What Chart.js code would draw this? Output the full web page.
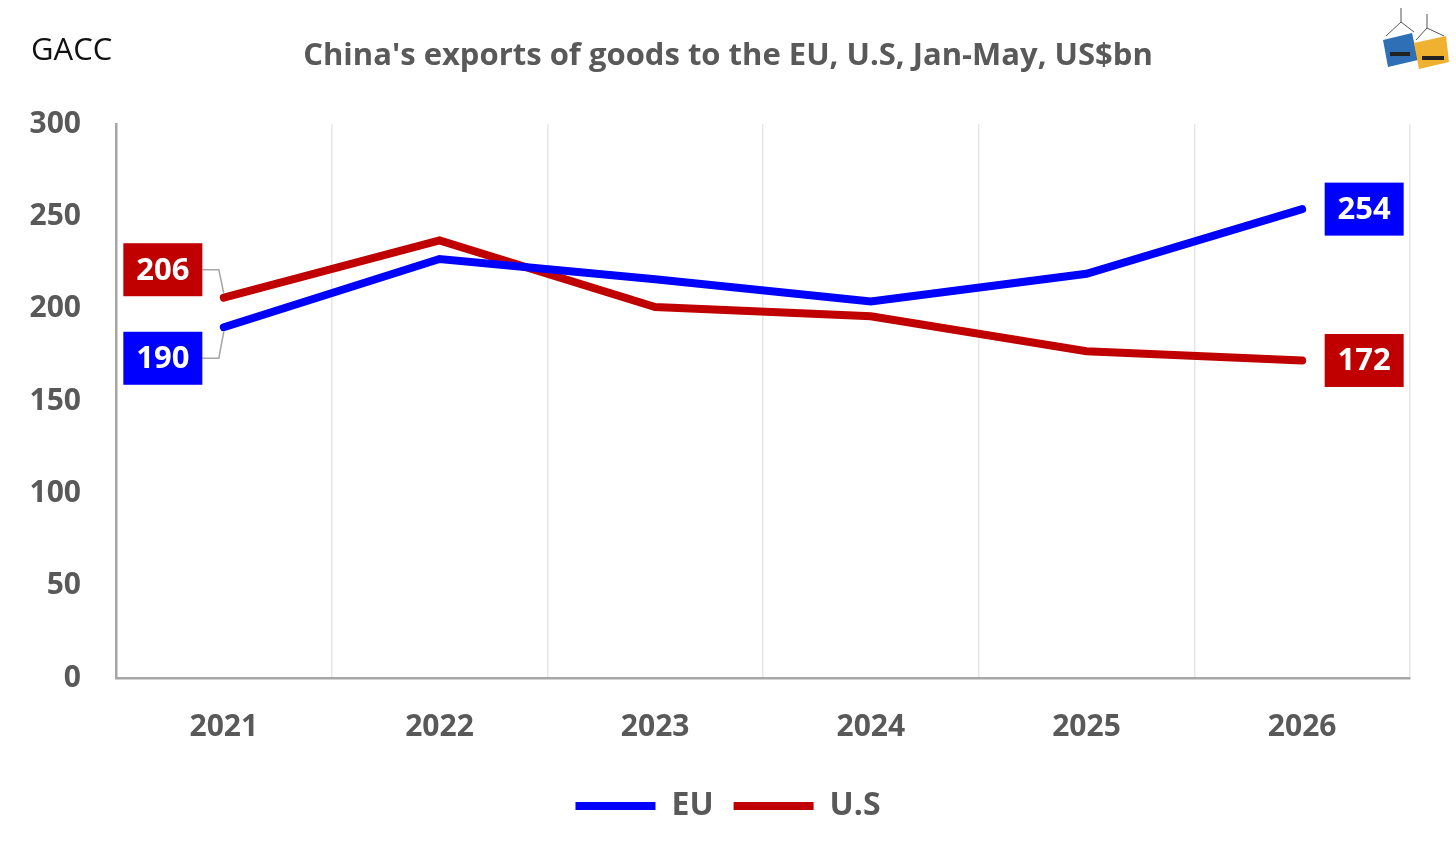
<!DOCTYPE html>
<html>
<head>
<meta charset="utf-8">
<title>China's exports of goods to the EU, U.S</title>
<script src="https://cdn.jsdelivr.net/npm/chart.js@4.4.1/dist/chart.umd.min.js"></script>
<style>
  html, body { margin: 0; padding: 0; background: #fff; }
  #wrap { width: 1456px; height: 861px; }
</style>
</head>
<body>
<div id="wrap"><canvas id="myChart" width="1456" height="861"></canvas></div>
<script>
// data
const years = ['2021', '2022', '2023', '2024', '2025', '2026'];
const euValues = [190, 227, 216, 204, 219, 254];
const usValues = [206, 237, 201, 196, 177, 172];
const yTicks = [0, 50, 100, 150, 200, 250, 300];

const FONT = "'Open Sans', 'Noto Sans', sans-serif";
const GREY = '#595959';
const BLUE = '#0000ff';
const RED = '#c00000';

// value boxes at the ends of the lines, with leader lines on the left side
const labelBoxes = {
  id: 'labelBoxes',
  afterDatasetsDraw(chart) {
    const c = chart.ctx;
    const boxW = 79, boxH = 53;
    function box(cx, cy, colour, text) {
      c.fillStyle = colour;
      c.fillRect(cx - boxW / 2, cy - boxH / 2, boxW, boxH);
      c.fillStyle = '#fff';
      c.font = 'bold 31px ' + FONT;
      c.textAlign = 'center';
      c.textBaseline = 'middle';
      c.fillText(text, cx, cy + 1);
    }
    chart.data.datasets.forEach((ds, i) => {
      const pts = chart.getDatasetMeta(i).data;
      const first = pts[0], last = pts[pts.length - 1];
      // right side: label just right of the last point
      box(last.x + 62, last.y, ds.borderColor, String(ds.data[ds.data.length - 1]));
      // left side: label pushed away from the other series
      const shift = i === 0 ? 31 : -28;
      const bx = first.x - 61, by = first.y + shift;
      c.strokeStyle = '#a6a6a6';
      c.lineWidth = 1.5;
      c.beginPath();
      c.moveTo(bx + boxW / 2, by);
      c.lineTo(first.x - 5, by);
      c.lineTo(first.x, first.y + (i === 0 ? 4 : -4));
      c.stroke();
      box(bx, by, ds.borderColor, String(ds.data[0]));
    });
  }
};

// source text and a small container logo
const decorations = {
  id: 'decorations',
  afterDraw(chart) {
    const c = chart.ctx;
    c.save();
    c.fillStyle = '#111';
    c.font = '31px ' + FONT;
    c.textAlign = 'left';
    c.textBaseline = 'middle';
    c.fillText('GACC', 31, 51);

    // logo: two hanging containers
    c.strokeStyle = '#555';
    c.lineWidth = 1;
    c.beginPath();
    c.moveTo(1401, 8); c.lineTo(1401, 22);
    c.moveTo(1401, 22); c.lineTo(1386, 36);
    c.moveTo(1401, 22); c.lineTo(1414, 32);
    c.moveTo(1427, 14); c.lineTo(1427, 28);
    c.moveTo(1427, 28); c.lineTo(1416, 40);
    c.moveTo(1427, 28); c.lineTo(1444, 36);
    c.stroke();
    c.fillStyle = '#2f6fb5';
    c.beginPath();
    c.moveTo(1383, 40); c.lineTo(1412, 33); c.lineTo(1418, 60); c.lineTo(1388, 67); c.closePath();
    c.fill();
    c.fillStyle = '#f0b030';
    c.beginPath();
    c.moveTo(1414, 43); c.lineTo(1446, 36); c.lineTo(1449, 62); c.lineTo(1419, 69); c.closePath();
    c.fill();
    c.fillStyle = '#222';
    c.fillRect(1390, 52, 20, 4);
    c.fillRect(1422, 56, 22, 4);
    c.restore();
  }
};

new Chart(document.getElementById('myChart'), {
  type: 'line',
  data: {
    labels: years,
    datasets: [
      {
        label: 'EU',
        data: euValues,
        borderColor: BLUE,
        backgroundColor: BLUE,
        borderWidth: 8,
        borderCapStyle: 'round',
        pointRadius: 0,
        pointStyle: 'line',
        tension: 0
      },
      {
        label: 'U.S',
        data: usValues,
        borderColor: RED,
        backgroundColor: RED,
        borderWidth: 8,
        borderCapStyle: 'round',
        pointRadius: 0,
        pointStyle: 'line',
        tension: 0
      }
    ]
  },
  options: {
    responsive: false,
    animation: false,
    devicePixelRatio: 1,
    layout: { padding: { left: 0, right: 0, top: 0, bottom: 29 } },
    plugins: {
      title: {
        display: true,
        text: "China's exports of goods to the EU, U.S, Jan-May, US$bn",
        color: GREY,
        font: { family: FONT, size: 31, weight: 'bold' },
        padding: { top: 38, bottom: 49 }
      },
      legend: {
        position: 'bottom',
        labels: {
          usePointStyle: true,
          pointStyleWidth: 80,
          boxHeight: 10,
          color: GREY,
          font: { family: FONT, size: 32, weight: 'bold' },
          padding: 20
        }
      },
      tooltip: { enabled: false }
    },
    scales: {
      x: {
        offset: true,
        grid: { offset: true, color: '#e6e6e6', lineWidth: 1.5, drawTicks: false },
        border: { color: '#a6a6a6', width: 2.5 },
        ticks: {
          color: GREY,
          font: { family: FONT, size: 30, weight: 'bold' },
          padding: 31
        },
        afterFit(scale) { scale.height = 92; }
      },
      y: {
        min: 0,
        max: 300,
        afterBuildTicks(scale) { scale.ticks = yTicks.map(v => ({ value: v })); },
        grid: { display: false, drawTicks: false },
        border: { color: '#a6a6a6', width: 2.5 },
        ticks: {
          color: GREY,
          font: { family: FONT, size: 30, weight: 'bold' },
          padding: 35
        },
        afterFit(scale) { scale.width = 116; }
      },
      // empty right-hand margin so title and legend centre on the page
      yRight: {
        position: 'right',
        grid: { display: false, drawTicks: false },
        border: { display: false },
        ticks: { display: false },
        afterFit(scale) { scale.width = 46; }
      }
    }
  },
  plugins: [labelBoxes, decorations]
});
</script>
</body>
</html>
